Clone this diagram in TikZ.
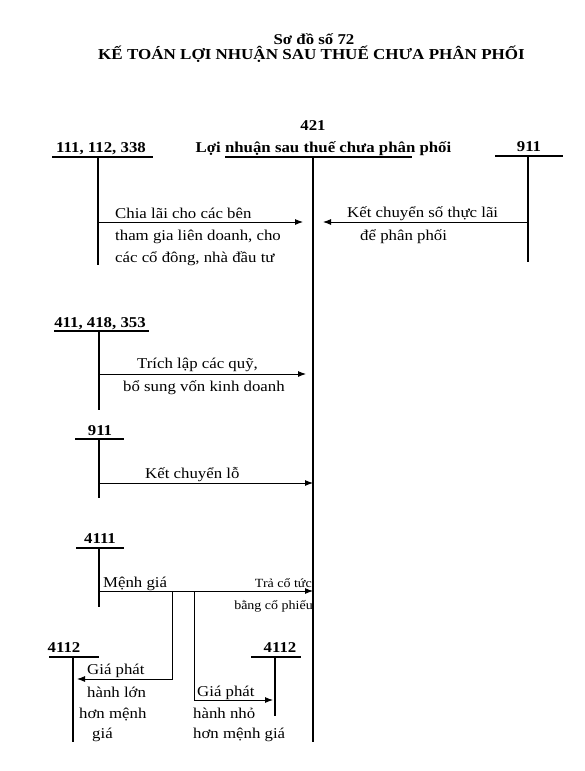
\documentclass[tikz,border=0pt]{standalone}
\usepackage{fontspec}
\setmainfont{Liberation Serif}[FakeStretch=1.12]
\usetikzlibrary{arrows.meta}

\begin{document}
\begin{tikzpicture}[x=1pt,y=-1pt,%
% common options for the texts:
txt/.style = {inner sep=0, anchor=base west, font=\fontsize{15}{22}\selectfont},
small/.style = {inner sep=0, anchor=base east, font=\fontsize{12.5}{18}\selectfont},
% common options for the account numbers:
acc/.style = {inner sep=0, anchor=base, font=\bfseries\fontsize{15}{18}\selectfont},
% common options for the lines:
tline/.style = {line width=1.1pt},
main/.style = {line width=2.4pt},
arr/.style = {line width=0.9pt, -{Latex[length=8pt,width=6pt]}}]
\useasboundingbox (0,0) rectangle (585,771);
\node[acc] (T1) at (314,44) {Sơ đồ số 72};
\node[acc] (T2) at (311.5,59) {\fontsize{15.2}{18}\selectfont KẾ TOÁN LỢI NHUẬN SAU THUẾ CHƯA PHÂN PHỐI};
\node[acc] (A0) at (313,130) {421};
\node[acc] (A1) at (323.5,152) {Lợi nhuận sau thuế chưa phân phối};
\node[acc] (B1) at (101,152) {111, 112, 338};
\node[acc] (C1) at (529,151) {911};
\node[acc] (B2) at (100,327) {411, 418, 353};
\node[acc] (B3) at (100,435) {911};
\node[acc] (B4) at (100,543) {4111};
\node[acc] (B5) at (64,652) {4112};
\node[acc] (B6) at (280,652) {4112};
\node[txt] (X1) at (115,218) {Chia lãi cho các bên};
\node[txt] (X1b) at (115,240) {tham gia liên doanh, cho};
\node[txt] (X1c) at (115,262) {các cổ đông, nhà đầu tư};
\node[txt] (X2) at (347,217) {Kết chuyển số thực lãi};
\node[txt] (X2b) at (360,240) {để phân phối};
\node[txt] (X3) at (137,368) {Trích lập các quỹ,};
\node[txt] (X3b) at (123,391) {bổ sung vốn kinh doanh};
\node[txt] (X4) at (145,478) {Kết chuyển lỗ};
\node[txt] (X5) at (103,587) {Mệnh giá};
\node[small] (X6) at (312,587) {Trả cổ tức};
\node[small] (X6b) at (313,609) {bằng cổ phiếu};
\node[txt] (X7) at (87,674) {Giá phát};
\node[txt] (X7b) at (87,697) {hành lớn};
\node[txt] (X7c) at (79,718) {hơn mệnh};
\node[txt] (X7d) at (92,738) {giá};
\node[txt] (X8) at (197,696) {Giá phát};
\node[txt] (X8b) at (193,718) {hành nhỏ};
\node[txt] (X8c) at (193,738) {hơn mệnh giá};
% T accounts
\coordinate (A1l) at (225,157);
\coordinate (A1r) at (412,157);
\coordinate (A1t) at (313,157);
\coordinate (A1e) at (313,742);
\coordinate (B1l) at (52,157);
\coordinate (B1r) at (153,157);
\coordinate (B1t) at (98,157);
\coordinate (B1e) at (98,265);
\coordinate (C1l) at (495,156);
\coordinate (C1r) at (563,156);
\coordinate (C1t) at (528,156);
\coordinate (C1e) at (528,262);
\coordinate (B2l) at (54,331);
\coordinate (B2r) at (149,331);
\coordinate (B2t) at (99,331);
\coordinate (B2e) at (99,410);
\coordinate (B3l) at (75,439);
\coordinate (B3r) at (124,439);
\coordinate (B3t) at (99,439);
\coordinate (B3e) at (99,498);
\coordinate (B4l) at (76,548);
\coordinate (B4r) at (124,548);
\coordinate (B4t) at (99,548);
\coordinate (B4e) at (99,607);
\coordinate (B5l) at (49,657);
\coordinate (B5r) at (99,657);
\coordinate (B5t) at (73,657);
\coordinate (B5e) at (73,742);
\coordinate (B6l) at (251,657);
\coordinate (B6r) at (301,657);
\coordinate (B6t) at (275,657);
\coordinate (B6e) at (275,716);
% arrow ends
\coordinate (P1s) at (98,222);
\coordinate (P1e) at (303,222);
\coordinate (P2s) at (528,222);
\coordinate (P2e) at (323,222);
\coordinate (P3s) at (99,374);
\coordinate (P3e) at (306,374);
\coordinate (P4s) at (99,483);
\coordinate (P4e) at (313,483);
\coordinate (P5s) at (99,591);
\coordinate (P5e) at (313,591);
\coordinate (P6s) at (172,591);
\coordinate (P6e) at (77,679);
\coordinate (P7s) at (194,591);
\coordinate (P7e) at (273,700);
\draw[main] (A1l) -- (A1r);
\draw[main] (A1t) -- (A1e);
\draw[tline] (B1l) -- (B1r);
\draw[tline] (B1t) -- (B1e);
\draw[tline] (C1l) -- (C1r);
\draw[tline] (C1t) -- (C1e);
\draw[tline] (B2l) -- (B2r);
\draw[tline] (B2t) -- (B2e);
\draw[tline] (B3l) -- (B3r);
\draw[tline] (B3t) -- (B3e);
\draw[tline] (B4l) -- (B4r);
\draw[tline] (B4t) -- (B4e);
\draw[tline] (B5l) -- (B5r);
\draw[tline] (B5t) -- (B5e);
\draw[tline] (B6l) -- (B6r);
\draw[tline] (B6t) -- (B6e);
\draw[arr] (P1s) -- (P1e);
\draw[arr] (P2s) -- (P2e);
\draw[arr] (P3s) -- (P3e);
\draw[arr] (P4s) -- (P4e);
\draw[arr] (P5s) -- (P5e);
\draw[arr] (P6s) |- (P6e);
\draw[arr] (P7s) |- (P7e);
\end{tikzpicture}
\end{document}
